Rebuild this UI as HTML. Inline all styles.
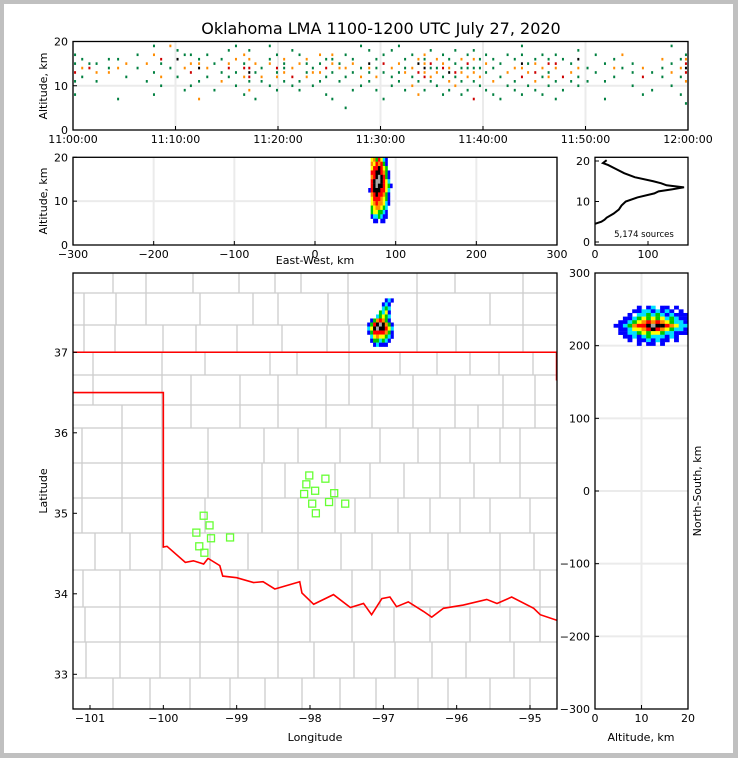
<!DOCTYPE html>
<html><head><meta charset="utf-8"><style>
html,body{margin:0;padding:0;background:#fff}
svg{display:block;font-family:"DejaVu Sans","Liberation Sans",sans-serif}
</style></head><body>
<svg id="fig" width="738" height="758" viewBox="0 0 738 758" xmlns="http://www.w3.org/2000/svg">
<rect x="0" y="0" width="738" height="758" fill="#c0c0c0"/>
<rect x="4" y="4" width="729" height="749" fill="#fff"/>
<text x="381" y="34" text-anchor="middle" font-size="16">Oklahoma LMA 1100-1200 UTC July 27, 2020</text>
<g id="layer"></g>
</svg>
<script>
// ---------- DATA ----------
const timeTickLabels = ["11:00:00","11:10:00","11:20:00","11:30:00","11:40:00","11:50:00","12:00:00"];
const topMin = [0.2,0.9,1.6,2.3,3.5,4.4,5.2,6.3,7.2,7.9,8.6,9.5,10.2,10.9,11.5,12.3,13.1,13.8,14.5,15.2,15.9,16.7,17.2,17.8,18.4,19.2,19.9,20.6,21.4,22.1,22.8,23.4,24.1,24.7,25.3,26.0,26.6,27.3,28.1,28.9,29.6,30.3,31.1,31.8,32.4,33.1,33.7,34.3,34.9,35.5,36.1,36.7,37.3,37.9,38.5,39.1,39.7,40.3,41.0,41.7,42.4,43.1,43.8,44.4,45.1,45.8,46.4,47.1,47.8,48.6,49.3,50.2,51.0,51.9,52.8,53.6,54.6,55.6,56.5,57.5,58.4,59.3,59.8];
const topAlt = [[8,11,13,15,17],[12,14,16],[14,15],[11,13,15],[13,14,16],[7,14,16],[12,15],[17,14],[15,11],[8,13,17,19],[10,12,15,16],[14,19],[12,16,18],[9,14,17],[10,13,15,17],[7,11,14,15,16],[12,14,17],[9,15],[11,13,16],[12,14,15,18],[10,13,16,19],[8,12,14,15,17],[9,11,12,13,14,16,18],[7,13,15],[11,12,14],[10,15,16,19],[9,12,13,14,17],[11,13,14,15,16],[10,12,14,18],[9,11,15,17],[12,13,15,16],[10,13,14],[11,13,15,17],[8,12,14,16],[7,13,15,16,17],[11,14,15],[5,12,14,17],[9,13,15,16],[10,12,14,19],[11,13,14,15,18],[9,12,14,16],[7,13,15,17],[10,12,14,18],[11,13,15,19],[9,13,14,16],[10,12,14,17],[8,11,13,15,16],[9,12,13,14,15,16,17],[11,12,14,15,18],[10,13,14,16],[8,12,14,15,17],[9,11,13,14,16],[10,12,13,15,18],[8,11,13,14,16],[9,12,14,15,17],[7,11,13,14,16,18],[10,12,14,16],[9,13,15,17],[8,11,14,16],[7,12,15],[10,13,17],[9,11,14,16],[8,12,14,15,17,19],[10,13,15],[9,11,13,15,16],[8,12,14,17],[10,12,13,15,16],[7,11,14,15,17],[9,12,16],[11,13,15],[10,12,14,16,18],[11,14],[13,17],[7,11,15],[12,14,16],[14,17],[10,13,15],[8,12,14],[9,13],[12,14,16],[10,13,15,19],[8,12,14,16],[6,11,13,14,15,16,17]];
const topLvl = [[0,0,2,0,0],[0,1,0],[2,0],[0,1,0],[1,0,0],[0,1,0],[0,1],[0,0],[1,0],[0,0,1,0],[0,1,0,2],[0,1],[0,3,0],[0,1,0],[0,2,1,0],[1,0,3,1,0],[0,1,0],[0,0],[1,0,0],[0,2,1,0],[0,0,1,0],[0,1,2,0,1],[1,0,2,3,2,1,0],[0,0,1],[0,1,0],[0,1,0,0],[0,1,0,2,0],[0,1,0,0,1],[0,2,1,0],[0,0,1,0],[1,0,0,1],[0,1,0],[0,1,0,1],[0,0,2,0],[0,0,1,0,1],[0,1,0],[0,0,1,0],[0,0,1,0],[0,1,0,0],[0,0,1,3,0],[0,1,0,0],[0,0,2,0],[0,0,1,0],[0,0,1,0],[0,1,0,0],[1,0,1,0],[1,0,2,3,1],[0,2,1,3,1,0,1],[0,1,0,2,0],[0,1,0,1],[0,0,2,1,0],[0,1,3,1,0],[1,0,2,0,0],[0,0,1,0,1],[0,1,0,2,0],[2,0,1,0,1,0],[0,1,0,0],[0,0,1,0],[0,1,0,0],[0,0,0],[0,1,0],[0,0,1,0],[0,2,1,3,0,0],[0,1,0],[0,1,2,1,0],[0,0,1,0],[0,1,0,2,0],[0,0,1,2,0],[0,2,0],[0,1,0],[0,0,1,3,0],[0,0],[0,0],[0,0,0],[0,1,0],[0,1],[0,0,0],[0,2,1],[0,0],[0,0,1],[0,1,0,0],[0,0,1,0],[0,1,2,3,2,1,0]];
const ewCols = [66,69,72,75,78,81,84,87,90,93];
const ewAltRows = [19,18,17,16,15,14,13,12,11,10,9,8,7,6,5];
const ewDensity = [[0,4,5,3,6,4,2,1,0,0],[0,5,4,6,5,6,3,1,0,0],[0,4,6,6,7,6,4,3,0,0],[0,6,6,7,7,6,5,3,1,0],[0,5,6,7,8,7,6,3,1,0],[0,6,7,8,8,7,6,4,2,0],[0,6,7,8,7,7,6,4,3,1],[1,6,7,7,7,6,6,4,2,0],[0,5,6,7,6,6,5,3,1,0],[0,4,6,6,6,5,4,3,1,0],[0,4,5,6,5,5,4,2,1,0],[0,3,4,5,5,4,3,2,0,0],[0,3,4,4,3,3,2,1,0,0],[0,1,2,2,3,2,1,1,0,0],[0,0,1,1,0,1,1,0,0,0]];
const histAlt = [4.5,5,5.5,6,7,8,9,10,11,12,12.5,13,13.5,14,14.5,15,16,17,18,19,19.5,20.2];
const histCount = [0,12,18,22,35,45,50,58,80,112,120,145,168,135,125,110,75,55,40,25,15,22];
const mapLon = [-97.22,-97.18,-97.14,-97.10,-97.06,-97.02,-96.98,-96.94,-96.90,-96.86];
const mapLat = [37.62,37.57,37.52,37.47,37.42,37.37,37.32,37.27,37.22,37.17,37.12,37.07];
const mapDensity = [[0,0,0,0,0,0,1,2,1,0],[0,0,0,0,0,1,2,1,0,0],[0,0,0,0,0,2,3,2,0,0],[0,0,0,0,3,2,4,1,0,0],[0,0,0,2,3,4,3,2,0,0],[0,1,3,5,6,5,3,1,0,0],[1,3,6,7,8,7,5,3,1,0],[2,4,7,8,7,7,6,4,2,0],[1,3,6,6,6,6,5,3,1,0],[0,2,4,5,4,4,3,2,1,0],[0,1,3,3,2,3,2,1,0,0],[0,0,1,2,1,1,1,0,0,0]];
const stationLon = [-99.45,-99.37,-99.55,-99.35,-99.51,-99.44,-99.09,-98.01,-97.79,-98.05,-97.93,-98.08,-97.67,-97.97,-97.74,-97.52,-97.92];
const stationLat = [34.97,34.85,34.76,34.69,34.59,34.51,34.70,35.47,35.43,35.36,35.28,35.24,35.25,35.12,35.14,35.12,35.00];
const nsAltCols = [4,5,6,7,8,9,10,11,12,13,14,15,16,17,18,19];
const nsRows = [250,245,240,235,230,225,220,215,210,205,200];
const nsDensity = [[0,0,0,0,0,1,0,1,2,0,1,1,0,1,0,0],[0,0,0,0,1,1,2,2,1,2,1,2,1,0,1,0],[0,0,0,1,0,2,2,3,2,3,2,1,2,1,1,1],[0,0,1,1,2,3,4,3,4,3,4,2,3,2,1,1],[0,1,1,2,3,4,5,6,5,6,5,4,3,2,2,1],[1,1,2,3,5,6,6,7,8,7,7,6,5,4,2,2],[0,1,1,2,4,4,5,6,7,6,5,4,3,2,2,1],[0,1,1,2,2,3,4,3,4,4,3,2,2,1,1,1],[0,0,1,1,2,1,2,3,2,2,2,1,2,1,0,0],[0,0,0,1,0,1,1,2,1,2,1,1,0,1,0,0],[0,0,0,0,0,1,0,1,1,0,1,0,0,0,0,0]];
const borderLon = [-100.01,-99.95,-99.70,-99.59,-99.45,-99.39,-99.23,-99.19,-99.00,-98.77,-98.64,-98.48,-98.14,-98.11,-97.95,-97.68,-97.45,-97.27,-97.16,-97.02,-96.91,-96.82,-96.66,-96.45,-96.34,-96.18,-95.91,-95.59,-95.45,-95.25,-94.95,-94.86,-94.63];
const borderLat = [34.58,34.59,34.39,34.41,34.37,34.44,34.35,34.22,34.20,34.14,34.15,34.06,34.15,34.01,33.87,33.99,33.83,33.88,33.74,33.94,33.96,33.84,33.90,33.78,33.71,33.82,33.86,33.93,33.88,33.96,33.82,33.74,33.67];

// ---------- HELPERS ----------
const NS = "http://www.w3.org/2000/svg";
const layer = document.getElementById('layer');
function mk(tag, attrs, parent){const e=document.createElementNS(NS,tag);for(const k in attrs)e.setAttribute(k,attrs[k]);(parent||layer).appendChild(e);return e;}
function txt(x,y,s,size,anchor,parent,rot){const e=mk('text',{x:x,y:y,'font-size':size,'text-anchor':anchor||'middle'},parent);if(rot)e.setAttribute('transform','rotate('+rot+' '+x+' '+y+')');e.textContent=s;return e;}
function lin(d0,d1,r0,r1){return v=>r0+(v-d0)*(r1-r0)/(d1-d0);}
const densColors = ['none','#0000ff','#00e0ff','#00c800','#ffff00','#ff8c00','#ff0000','#000000','#a8a8a8'];
const topColors = ['#008040','#ff8c00','#cc0000','#000000'];

// ---------- PANEL 1: time-height ----------
{
const g = mk('g',{});  
const X = lin(0,60,73,688), Y = lin(0,20,130,41.5);
for(let i=0;i<=6;i++){const l=mk('line',{x1:X(i*10),x2:X(i*10),y1:41.5,y2:130,stroke:'#ebebeb','stroke-width':2},g);}
mk('line',{x1:73,x2:688,y1:Y(10),y2:Y(10),stroke:'#ebebeb','stroke-width':2},g);
topMin.forEach((m,i)=>{topAlt[i].forEach((a,j)=>{
  const r=mk('rect',{x:X(m)-1,y:Y(a)-1.3,width:2,height:2.6,fill:topColors[topLvl[i][j]]},g);
  
  
});});
const ax=mk('rect',{x:73,y:41.5,width:615,height:88.5,fill:'none',stroke:'#000','stroke-width':1.3},g);

timeTickLabels.forEach((s,i)=>{mk('line',{x1:X(i*10),x2:X(i*10),y1:130,y2:126,stroke:'#000'},g);const t=txt(X(i*10),143,s,11,'middle',g);});
[0,10,20].forEach(v=>{mk('line',{x1:73,x2:77,y1:Y(v),y2:Y(v),stroke:'#000'},g);txt(68,Y(v)+4,String(v),11,'end',g);});
const yl=txt(47,86,'Altitude, km',11,'middle',g,-90);
}

// ---------- PANEL 2: E-W height ----------
{
const g = mk('g',{});  
const X = lin(-300,300,73,557), Y = lin(0,20,245,157.3);
for(let v=-300;v<=300;v+=100) mk('line',{x1:X(v),x2:X(v),y1:157,y2:245,stroke:'#ebebeb','stroke-width':2},g);
mk('line',{x1:73,x2:557,y1:Y(10),y2:Y(10),stroke:'#ebebeb','stroke-width':2},g);
const w=X(3)-X(0), h=Y(0)-Y(1);
ewAltRows.forEach((a,i)=>ewCols.forEach((c,j)=>{const v=ewDensity[i][j];if(!v)return;
  const r=mk('rect',{x:X(c),y:Y(a+1),width:w+0.2,height:h+0.2,fill:densColors[v]},g);
  
  
}));
mk('rect',{x:73,y:157.3,width:484,height:87.7,fill:'none',stroke:'#000','stroke-width':1.3},g);
for(let v=-300;v<=300;v+=100){mk('line',{x1:X(v),x2:X(v),y1:245,y2:241,stroke:'#000'},g);txt(X(v),258,v<0?'\u2212'+(-v):String(v),11,'middle',g);}
[0,10,20].forEach(v=>{mk('line',{x1:73,x2:77,y1:Y(v),y2:Y(v),stroke:'#000'},g);txt(68,Y(v)+4,String(v),11,'end',g);});
const xl=txt(315,264,'East-West, km',11,'middle',g);
const yl=txt(47,201,'Altitude, km',11,'middle',g,-90);
}

// ---------- PANEL 3: altitude histogram ----------
{
const g = mk('g',{});  
const X = lin(0,100,595,648), Y = lin(0,20,242,161);
const p=mk('polyline',{points:histAlt.map((a,i)=>X(histCount[i])+','+Y(a)).join(' '),fill:'none',stroke:'#000','stroke-width':2},g);

mk('rect',{x:595,y:157.3,width:93,height:87.7,fill:'none',stroke:'#000','stroke-width':1.3},g);
[0,100].forEach(v=>{mk('line',{x1:X(v),x2:X(v),y1:245,y2:241,stroke:'#000'},g);txt(X(v),258,String(v),11,'middle',g);});
[0,10,20].forEach(v=>{mk('line',{x1:595,x2:599,y1:Y(v),y2:Y(v),stroke:'#000'},g);txt(590,Y(v)+4,String(v),11,'end',g);});
const t=txt(644,237,'5,174 sources',8.5,'middle',g);
}

// ---------- PANEL 4: map ----------
{
const g = mk('g',{});  
const X = lin(-101,-95,90,530), Y = lin(37,33,352.3,674.3);
const clip=mk('clipPath',{id:'mapclip'},g);mk('rect',{x:73,y:273,width:484,height:436},clip);
const cg=mk('g',{'clip-path':'url(#mapclip)'},g);
const rows=[273,293,325,352,375,405,428,463,498,533,570,607,642,678,709];
const verts=[[113,146,193,239,275,301,348,417,455,523],[84,116,146,200,253,278,328,348,417,490,523],[84,115,163,196,237,282,327,349,417,456,523],[93,162,205,270,297,349,400,437,470,499,533],[93,162,191,240,278,326,349,372,413,455,503,535],[122,162,191,240,278,326,372,413,455,478,503,535],[82,122,162,208,264,298,340,380,418,440,470,500,520],[82,122,162,208,262,285,335,370,404,440,474,520],[82,122,162,205,262,298,335,355,398,430,460,490,530],[95,130,162,210,248,298,341,372,410,448,500,534],[83,120,160,200,238,278,310,352,380,412,450,500,540],[85,120,160,200,238,278,310,352,394,430,470,510,540],[86,120,160,200,238,278,314,354,395,432,466,514],[113,150,190,230,265,302,340,376,418,448,490,530]];
const cty=mk('g',{stroke:'#cccccc','stroke-width':1.3,fill:'none'},cg);
rows.forEach(y=>mk('line',{x1:73,x2:557,y1:y,y2:y},cty));
verts.forEach((vs,i)=>vs.forEach(x=>mk('line',{x1:x,x2:x,y1:rows[i],y2:rows[i+1]},cty)));
const w=X(-96.96)-X(-97), h=Y(37)-Y(37.05);
mapLat.forEach((la,i)=>mapLon.forEach((lo,j)=>{const v=mapDensity[i][j];if(!v)return;
  const r=mk('rect',{x:X(lo),y:Y(la+0.05),width:w+0.2,height:h+0.2,fill:densColors[v]},cg);
  
  
}));
const bp='M73,'+Y(36.5)+' L'+X(-100)+','+Y(36.5)+' L'+X(-100)+','+Y(34.58)+' '+borderLon.map((lo,i)=>'L'+X(lo)+','+Y(borderLat[i])).join(' ');
const b=mk('path',{d:bp,fill:'none',stroke:'#ff0000','stroke-width':1.6},cg);
const b2=mk('path',{d:'M73,'+Y(37)+' L557,'+Y(37)+' M556.5,'+Y(37)+' L556.5,'+Y(36.65),fill:'none',stroke:'#ff0000','stroke-width':1.5},cg);
stationLon.forEach((lo,i)=>{const s=mk('rect',{x:X(lo)-3.5,y:Y(stationLat[i])-3.5,width:7,height:7,fill:'none',stroke:'#66ff33','stroke-width':1.3},cg);
  
  
});
mk('rect',{x:73,y:273,width:484,height:436,fill:'none',stroke:'#000','stroke-width':1.3},g);
for(let v=-101;v<=-95;v++){mk('line',{x1:X(v),x2:X(v),y1:709,y2:705,stroke:'#000'},g);txt(X(v),722,'\u2212'+(-v),11,'middle',g);}
for(let v=33;v<=37;v++){mk('line',{x1:73,x2:77,y1:Y(v),y2:Y(v),stroke:'#000'},g);txt(68,Y(v)+4,String(v),11,'end',g);}
const xl=txt(315,741,'Longitude',11,'middle',g);
const yl=txt(47,491,'Latitude',11,'middle',g,-90);
}

// ---------- PANEL 5: N-S height ----------
{
const g = mk('g',{});  
const X = lin(0,20,595,688), Y = lin(-300,300,709,273);
mk('line',{x1:X(10),x2:X(10),y1:273,y2:709,stroke:'#ebebeb','stroke-width':2},g);
for(let v=-200;v<=200;v+=100) mk('line',{x1:595,x2:688,y1:Y(v),y2:Y(v),stroke:'#ebebeb','stroke-width':2},g);
const w=X(1)-X(0), h=Y(0)-Y(5);
nsRows.forEach((n,i)=>nsAltCols.forEach((a,j)=>{const v=nsDensity[i][j];if(!v)return;
  const r=mk('rect',{x:X(a),y:Y(n+5),width:w+0.2,height:h+0.2,fill:densColors[v]},g);
  
  
}));
mk('rect',{x:595,y:273,width:93,height:436,fill:'none',stroke:'#000','stroke-width':1.3},g);
for(let v=-300;v<=300;v+=100){mk('line',{x1:595,x2:599,y1:Y(v),y2:Y(v),stroke:'#000'},g);txt(590,Y(v)+4,v<0?'\u2212'+(-v):String(v),11,'end',g);}
[0,10,20].forEach(v=>{mk('line',{x1:X(v),x2:X(v),y1:709,y2:705,stroke:'#000'},g);txt(X(v),722,String(v),11,'middle',g);});
const xl=txt(641,741,'Altitude, km',11,'middle',g);
const yl=txt(701,491,'North-South, km',11,'middle',g,-90);
}
</script>
</body></html>
